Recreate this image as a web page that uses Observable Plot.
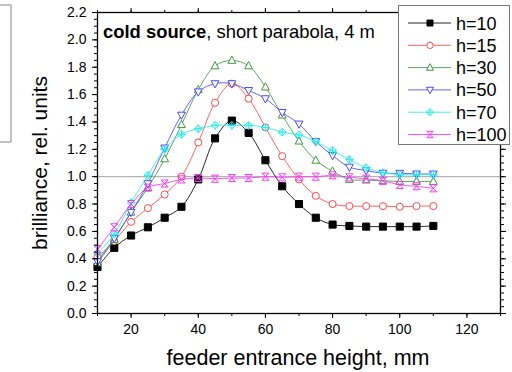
<!DOCTYPE html>
<html><head><meta charset="utf-8">
<script src="https://cdn.jsdelivr.net/npm/d3@7"></script>
<script src="https://cdn.jsdelivr.net/npm/@observablehq/plot@0.6"></script>
<style>
body{margin:0;background:#fff}
#chart{position:relative;width:512px;height:372px}
</style>
</head><body><div id="chart"></div>
<script>
// ---- data ----
const xs   = [10,15,20,25,30,35,40,45,50,55,60,65,70,75,80,85,90,95,100,105,110];
const h10  = [0.34,0.48,0.57,0.63,0.70,0.78,0.98,1.28,1.41,1.32,1.12,0.93,0.80,0.70,0.65,0.64,0.635,0.635,0.635,0.635,0.64];
const h15  = [0.41,0.53,0.67,0.77,0.87,1.00,1.25,1.54,1.68,1.57,1.36,1.15,0.98,0.86,0.80,0.785,0.785,0.785,0.78,0.785,0.785];
const h30  = [0.37,0.54,0.74,0.92,1.13,1.38,1.635,1.81,1.85,1.81,1.655,1.45,1.26,1.12,1.04,0.98,0.975,0.97,0.965,0.965,0.965];
const h50  = [0.38,0.55,0.74,0.95,1.21,1.45,1.62,1.68,1.68,1.63,1.57,1.47,1.385,1.257,1.155,1.07,1.045,1.025,1.025,1.02,1.02];
const h70  = [0.44,0.58,0.81,1.01,1.20,1.31,1.35,1.375,1.375,1.375,1.36,1.325,1.305,1.257,1.19,1.125,1.065,1.03,1.015,1.015,1.015];
const h100 = [0.47,0.63,0.80,0.92,0.95,0.98,0.99,0.985,0.99,0.99,1.00,0.995,1.00,1.00,1.01,0.995,0.985,0.97,0.94,0.93,0.915];
const seriesNames  = ["h=10","h=15","h=30","h=50","h=70","h=100"];
const seriesValues = [h10,h15,h30,h50,h70,h100];
const seriesColors = ["#000000","#ff4848","#3c9a3c","#4848ff","#22eeee","#ff33ff"];
const xMajor = [20,40,60,80,100,120];
const xMinor = [10,20,30,40,50,60,70,80,90,100,110,120,130];
const yMajor = [0,0.2,0.4,0.6,0.8,1.0,1.2,1.4,1.6,1.8,2.0,2.2];
const yMinor = d3.range(0,45).map(i => i*0.05);
const titleBold = "cold source";
const titleRest = ", short parabola, 4 m";
const xLabel = "feeder entrance height, mm";
const yLabel = "brilliance, rel. units";
const refValue = 1.0;

// ---- symbols ----
const shapes = {
  square:(c,s)=>{c.rect(-s,-s,2*s,2*s);},
  circle:(c,s)=>{c.moveTo(s,0);c.arc(0,0,s,0,2*Math.PI);},
  triUp:(c,s)=>{s*=1.1;c.moveTo(0,-s*1.1);c.lineTo(s,s*0.75);c.lineTo(-s,s*0.75);c.closePath();},
  triDown:(c,s)=>{s*=1.1;c.moveTo(0,s*1.1);c.lineTo(s,-s*0.75);c.lineTo(-s,-s*0.75);c.closePath();},
  diamondPlus:(c,s)=>{s*=1.1;c.moveTo(0,-s);c.lineTo(s,0);c.lineTo(0,s);c.lineTo(-s,0);c.closePath();
    c.moveTo(-s,0);c.lineTo(s,0);c.moveTo(0,-s);c.lineTo(0,s);},
  hourglass:(c,s)=>{c.moveTo(-s,-s);c.lineTo(s,s);c.moveTo(s,-s);c.lineTo(-s,s);
    c.moveTo(-s,-s);c.lineTo(s,-s);c.moveTo(-s,s);c.lineTo(s,s);}
};
const shapeKeys = ["square","circle","triUp","triDown","diamondPlus","hourglass"];
const fills = (i)=> i===0 ? "#000" : (i>=4 ? "none" : "white");
const sym = k => ({draw(ctx,size){shapes[k](ctx, Math.sqrt(size)/2);}});

const rows = [];
seriesValues.forEach((vals,i)=>vals.forEach((v,j)=>rows.push({x:xs[j], y:v, s:i})));

const marks = [
  Plot.ruleY([refValue], {stroke:"#b4b4b4", strokeWidth:1.2}),
];
seriesValues.forEach((vals,i)=>{
  const d = rows.filter(r=>r.s===i);
  marks.push(Plot.line(d,{x:"x",y:"y",stroke:seriesColors[i],strokeWidth:1,strokeOpacity:0.85,curve:"catmull-rom"}));
  marks.push(Plot.dot(d,{x:"x",y:"y",r:4,symbol:sym(shapeKeys[i]),stroke:seriesColors[i],strokeWidth:1,fill:fills(i)}));
});
const noLab = ()=>"";
marks.push(
  Plot.frame({stroke:"black", strokeWidth:1.3}),
  Plot.axisX({anchor:"bottom", ticks:xMajor, tickSize:5, tickPadding:6, fontSize:14, label:null, tickFormat:d3.format("d")}),
  Plot.axisX({anchor:"bottom", ticks:xMinor, tickSize:3, tickFormat:noLab, label:null}),
  Plot.axisX({anchor:"top", ticks:xMajor, tickSize:5, tickFormat:noLab, label:null}),
  Plot.axisX({anchor:"top", ticks:xMinor, tickSize:3, tickFormat:noLab, label:null}),
  Plot.axisY({anchor:"left", ticks:yMajor, tickSize:5, tickPadding:6, fontSize:14, label:null, tickFormat:d3.format(".1f")}),
  Plot.axisY({anchor:"left", ticks:yMinor, tickSize:3, tickFormat:noLab, label:null}),
  Plot.axisY({anchor:"right", ticks:yMajor, tickSize:5, tickFormat:noLab, label:null}),
  Plot.axisY({anchor:"right", ticks:yMinor, tickSize:3, tickFormat:noLab, label:null})
);

const svg = Plot.plot({
  width:512, height:372,
  marginLeft:97, marginRight:12, marginTop:12, marginBottom:59,
  style:{fontFamily:"'Liberation Sans', Arial, sans-serif", color:"#000", background:"#fff"},
  x:{domain:[10,130], label:null},
  y:{domain:[0,2.2], label:null},
  marks
});
document.getElementById("chart").appendChild(svg);

// ---- overlay text, legend ----
const g = d3.select(svg).append("g")
  .style("font-family","'Liberation Sans', Arial, sans-serif")
  .attr("fill","#000").attr("text-anchor","start");
const t = g.append("text").attr("x",103).attr("y",38).attr("font-size",18.4).attr("text-anchor","start");
t.append("tspan").attr("font-weight","bold").text(titleBold);
t.append("tspan").text(titleRest);
g.append("text").attr("x",298).attr("y",365).attr("font-size",21.5).attr("text-anchor","middle").text(xLabel);
g.append("text").attr("transform","translate(47,163) rotate(-90)").attr("font-size",21).attr("text-anchor","middle").text(yLabel);
// stray box at left edge
g.append("rect").attr("x",-3).attr("y",5).attr("width",14).attr("height",137).attr("fill","none").attr("stroke","#888");
// legend
const lg = g.append("g");
lg.append("rect").attr("x",398.5).attr("y",5.5).attr("width",111).attr("height",139).attr("fill","white").attr("stroke","#777");
seriesNames.forEach((name,i)=>{
  const cy = 23 + i*22.3;
  lg.append("line").attr("x1",408).attr("x2",451).attr("y1",cy).attr("y2",cy).attr("stroke",seriesColors[i]).attr("stroke-opacity",0.85);
  const p = d3.path(); shapes[shapeKeys[i]](p, i===0?3:3.2);
  lg.append("path").attr("transform",`translate(430,${cy})`).attr("d",p.toString())
    .attr("stroke",seriesColors[i]).attr("fill",fills(i)).attr("stroke-width",1);
  lg.append("text").attr("x",456).attr("y",cy+6.5).attr("font-size",18).attr("text-anchor","start").text(name);
});
</script>
</body></html>
